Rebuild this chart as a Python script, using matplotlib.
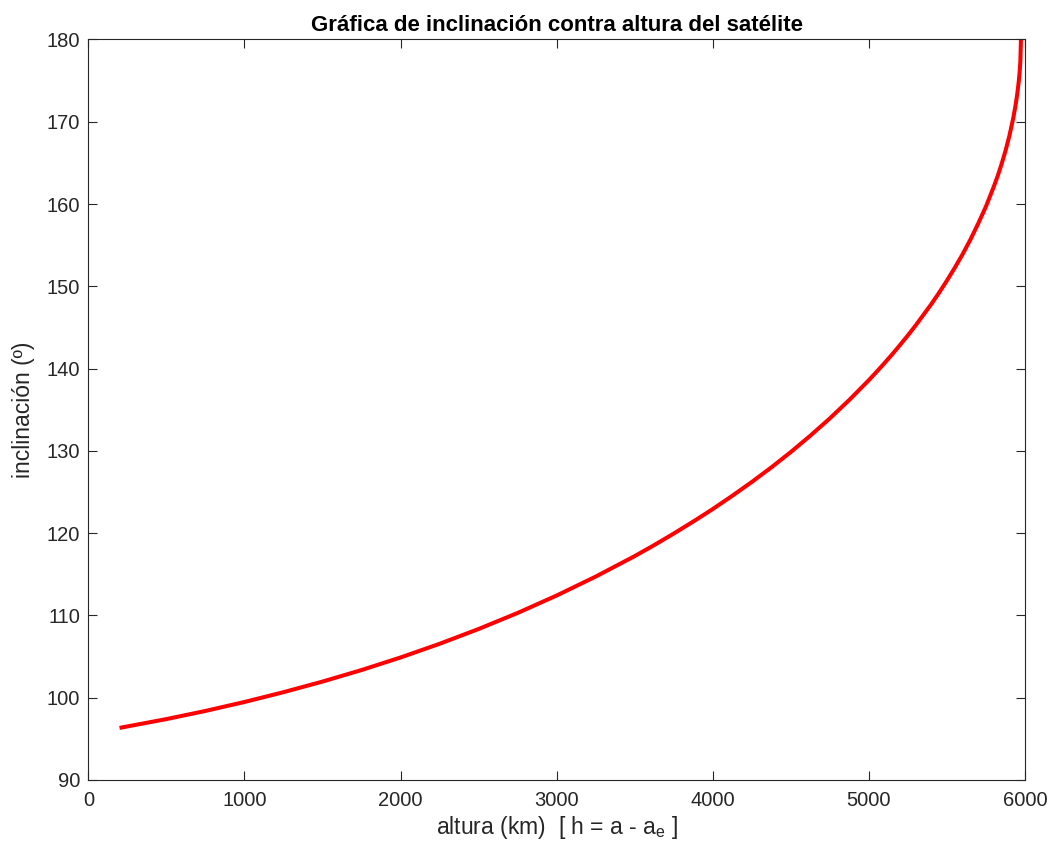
import matplotlib
matplotlib.use("Agg")
import matplotlib.pyplot as plt

altura_km = [200, 500, 750, 1000, 1250, 1500, 1750, 2000, 2250, 2500, 2750,
             3000, 3250, 3500, 3625, 3750, 3875, 4000, 4125, 4250, 4375,
             4500, 4625, 4750, 4875, 5000, 5050, 5100, 5150, 5200, 5250,
             5300, 5400, 5450, 5500, 5550, 5600, 5650, 5700, 5750, 5800,
             5825, 5850, 5875, 5900, 5925, 5940, 5950, 5960, 5965, 5970,
             5974]
inclinacion_deg = [96.33, 97.40, 98.39, 99.48, 100.67, 101.96, 103.36, 104.89,
                   106.55, 108.35, 110.30, 112.42, 114.72, 117.21, 118.55,
                   119.95, 121.41, 122.93, 124.54, 126.22, 127.99, 129.86,
                   131.85, 133.95, 136.20, 138.60, 139.62, 140.67, 141.75,
                   142.88, 144.04, 145.26, 147.84, 149.23, 150.70, 152.25,
                   153.89, 155.67, 157.62, 159.71, 162.11, 163.42, 164.86,
                   166.47, 168.30, 170.47, 172.06, 173.33, 174.90, 175.91,
                   177.27, 180.0]

x_ticks = [0, 1000, 2000, 3000, 4000, 5000, 6000]
y_ticks = [90, 100, 110, 120, 130, 140, 150, 160, 170, 180]

plt.rcParams['font.family'] = ['Liberation Sans', 'DejaVu Sans']
plt.rcParams['mathtext.fontset'] = 'custom'
plt.rcParams['mathtext.rm'] = 'Liberation Sans'
plt.rcParams['mathtext.it'] = 'Liberation Sans'

fig = plt.figure(figsize=(10.54, 8.56), dpi=100)
ax = fig.add_axes([0.0838, 0.0888, 0.9725 - 0.0838, 0.9539 - 0.0888])

ax.plot(altura_km, inclinacion_deg, color=(1, 0, 0), linewidth=2.9,
        solid_capstyle='butt', solid_joinstyle='round')

ax.set_xlim(0, 6000)
ax.set_ylim(90, 180)
ax.set_xticks(x_ticks)
ax.set_yticks(y_ticks)

edge = (0.15, 0.15, 0.15)
for s in ax.spines.values():
    s.set_color(edge)
    s.set_linewidth(0.8)
ax.tick_params(direction='in', length=6.5, width=0.8, colors=edge,
               top=True, right=True, labelsize=14.5, pad=6)
ax.tick_params(axis='x', pad=8)
for lbl in ax.get_xticklabels() + ax.get_yticklabels():
    lbl.set_color((0.15, 0.15, 0.15))

ax.set_title('Gráfica de inclinación contra altura del satélite',
             fontsize=16, fontweight='bold', color='black', pad=6)
ax.set_xlabel(r'altura (km)  [ h = a - a$_{\mathrm{e}}$ ]', fontsize=16.5,
              color=(0.15, 0.15, 0.15), labelpad=3)
ax.set_ylabel('inclinación (º)', fontsize=16.5, color=(0.15, 0.15, 0.15),
              labelpad=8)

fig.savefig('out.png', dpi=100)
